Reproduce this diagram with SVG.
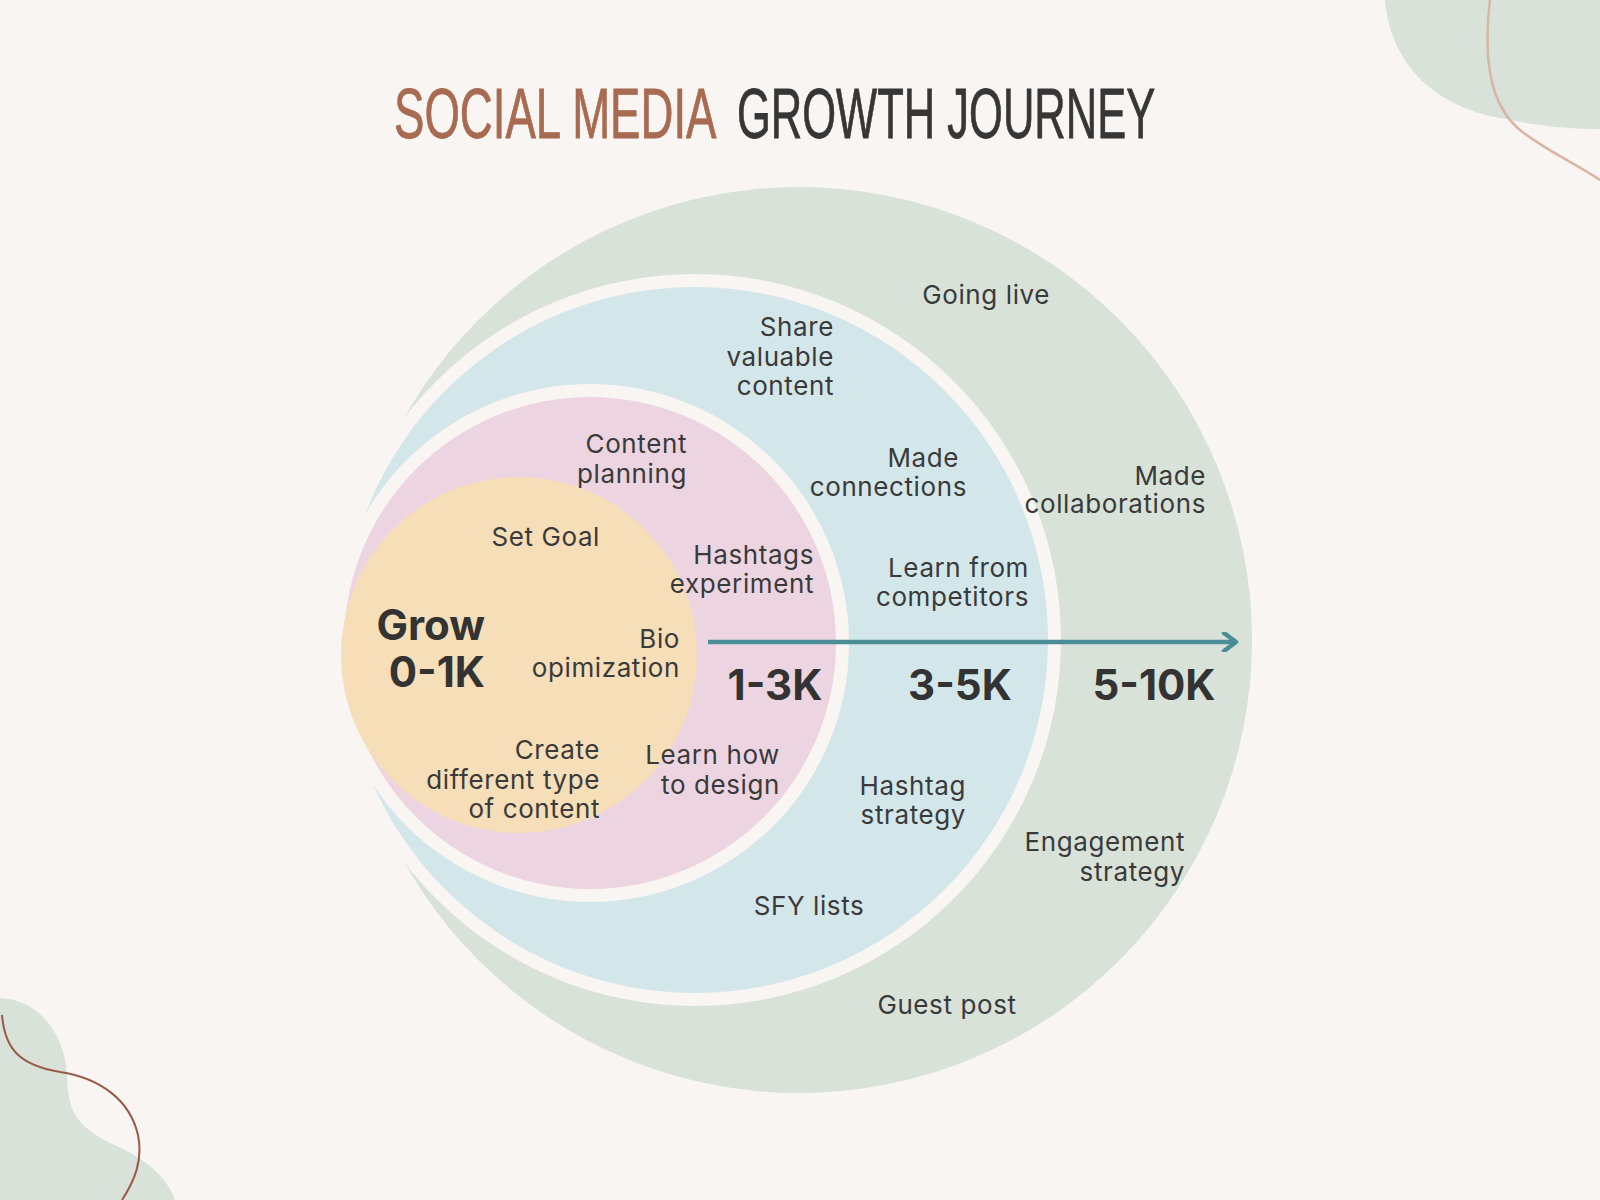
<svg xmlns="http://www.w3.org/2000/svg" width="1600" height="1200" viewBox="0 0 1600 1200">
<style>
.lbl{font-family:Inter,"Open Sans","Liberation Sans",sans-serif;font-size:26px;letter-spacing:0.6px;fill:#3a3a3a;text-anchor:end}
.big{font-family:Inter,"Open Sans","Liberation Sans",sans-serif;font-size:42px;font-weight:700;fill:#333333;text-anchor:end}
.mid{text-anchor:middle}
.ttl{font-family:"Liberation Sans",Arial,sans-serif;font-size:71px;stroke-width:0.8}
.bg{fill:#f8f5f2}
</style>
<defs>
<marker id="ah" viewBox="0 0 20 20" refX="15" refY="10" markerWidth="20" markerHeight="20" markerUnits="userSpaceOnUse" orient="auto">
<polyline points="3,1 15,10 3,19" fill="none" stroke="#4b8d96" stroke-width="4.5" stroke-linecap="round" stroke-linejoin="round"/>
</marker>
</defs>
<rect width="1600" height="1200" class="bg"/>
<g id="decor">
<path d="M1385,0 C1390,60 1430,105 1500,118 C1540,126 1570,129 1600,129 V0 Z" fill="#d8e2d8"/>
<path d="M1490,0 C1483,60 1490,105 1520,130 C1545,150 1575,163 1600,180" fill="none" stroke="#d9b5a5" stroke-width="2.5"/>
<path d="M0,998 C40,1000 65,1035 67,1075 C68,1110 75,1125 110,1143 C150,1160 168,1180 175,1200 L0,1200 Z" fill="#d8e2d8"/>
<path d="M2,1015 C5,1050 20,1065 60,1072 C100,1078 130,1100 138,1135 C143,1160 135,1180 122,1200" fill="none" stroke="#9a5a48" stroke-width="2"/>
</g>
<g id="title">
<text class="ttl" transform="translate(394,138) scale(0.642,1)" fill="#a86a50" stroke="#a86a50">SOCIAL MEDIA</text>
<text class="ttl" transform="translate(737,138) scale(0.613,1)" fill="#363636" stroke="#363636">GROWTH JOURNEY</text>
</g>
<g id="ring-5-10k">
<circle cx="799" cy="640" r="453" fill="#d8e2d8"/>
</g>
<g id="ring-3-5k">
<circle cx="695" cy="640" r="366" class="bg"/>
<circle cx="695" cy="640" r="353" fill="#d3e7ea"/>
</g>
<g id="ring-1-3k">
<circle cx="590" cy="643" r="259" class="bg"/>
<circle cx="590" cy="643" r="246" fill="#ecd5e0"/>
</g>
<g id="core-0-1k">
<circle cx="519" cy="655" r="178" fill="#f5deb8"/>
</g>
<g id="connectors">
<line x1="708" y1="642" x2="1236" y2="642" stroke="#4b8d96" stroke-width="4.5" marker-end="url(#ah)"/>
</g>
<g id="labels-0-1k">
<text class="big" x="485" y="640">Grow</text>
<text class="big" x="485" y="687">0-1K</text>
<text class="lbl" x="600" y="546">Set Goal</text>
<text class="lbl" x="680" y="648">Bio</text>
<text class="lbl" x="680" y="677">opimization</text>
<text class="lbl" x="600" y="759">Create</text>
<text class="lbl" x="600" y="789">different type</text>
<text class="lbl" x="600" y="818">of content</text>
</g>
<g id="labels-1-3k">
<text class="big mid" x="775" y="700">1-3K</text>
<text class="lbl" x="687" y="453">Content</text>
<text class="lbl" x="687" y="483">planning</text>
<text class="lbl" x="814" y="564">Hashtags</text>
<text class="lbl" x="814" y="593">experiment</text>
<text class="lbl" x="780" y="764">Learn how</text>
<text class="lbl" x="780" y="794">to design</text>
</g>
<g id="labels-3-5k">
<text class="big mid" x="960" y="700">3-5K</text>
<text class="lbl" x="834" y="336">Share</text>
<text class="lbl" x="834" y="366">valuable</text>
<text class="lbl" x="834" y="395">content</text>
<text class="lbl" x="959" y="467">Made</text>
<text class="lbl" x="967" y="496">connections</text>
<text class="lbl" x="1029" y="577">Learn from</text>
<text class="lbl" x="1029" y="606">competitors</text>
<text class="lbl" x="966" y="795">Hashtag</text>
<text class="lbl" x="966" y="824">strategy</text>
<text class="lbl mid" x="809" y="915">SFY lists</text>
</g>
<g id="labels-5-10k">
<text class="big mid" x="1154" y="700">5-10K</text>
<text class="lbl" x="1050" y="304">Going live</text>
<text class="lbl" x="1206" y="485">Made</text>
<text class="lbl" x="1206" y="513">collaborations</text>
<text class="lbl" x="1185" y="851">Engagement</text>
<text class="lbl" x="1185" y="881">strategy</text>
<text class="lbl mid" x="947" y="1014">Guest post</text>
</g>
</svg>
